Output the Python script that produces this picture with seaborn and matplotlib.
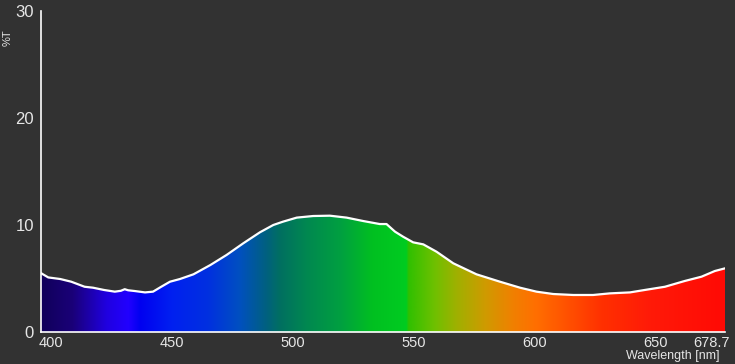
import numpy as np
import matplotlib
matplotlib.use("Agg")
import matplotlib.pyplot as plt
import matplotlib.transforms as mtransforms
from matplotlib.colors import LinearSegmentedColormap
import seaborn as sns

# ---- data ----
wavelength = [396, 399, 404, 408.5, 414, 417.5, 422, 426.5, 429, 430.6, 432, 434.7,
              439, 442.3, 445.7, 449.3, 453.4, 459, 466, 472.7, 479.6, 486.5, 492,
              496, 501.7, 508.5, 515.4, 522.3, 529.2, 536, 538.8, 542.3, 545.7,
              549.8, 554, 559.5, 566.4, 576, 585.7, 594, 600.8, 607.7, 616, 624.2,
              631.1, 639.4, 645.6, 653.9, 662.1, 669, 674.5, 678.7]
transmittance = [5.5, 5.1, 4.95, 4.7, 4.23, 4.14, 3.93, 3.77, 3.85, 4.0, 3.9, 3.83,
                 3.7, 3.77, 4.23, 4.7, 4.95, 5.39, 6.26, 7.2, 8.29, 9.32, 10.0,
                 10.31, 10.69, 10.84, 10.87, 10.69, 10.37, 10.09, 10.09, 9.38, 8.9,
                 8.38, 8.19, 7.5, 6.42, 5.39, 4.7, 4.14, 3.77, 3.55, 3.46, 3.46,
                 3.61, 3.7, 3.93, 4.23, 4.77, 5.17, 5.7, 5.95]
x_ticks = [400, 450, 500, 550, 600, 650, 678.7]
x_tick_labels = ["400", "450", "500", "550", "600", "650", "678.7"]
y_ticks = [0, 10, 20, 30]
y_tick_labels = ["0", "10", "20", "30"]

# spectrum colour stops (style)
stop_nm = [396, 409, 423, 432, 437, 450, 465, 478, 489, 495, 506, 520, 533, 547,
           548, 559, 568, 580, 591, 600, 614, 628, 648, 678.7]
stop_col = ["#10005a", "#1a0078", "#2000e0", "#2200ff", "#0000f0", "#0020f0",
            "#0030e0", "#0050c0", "#006080", "#007060", "#008850", "#00a040",
            "#00c020", "#00cc20", "#30c000", "#70c000", "#a0b000", "#d09a00",
            "#f08000", "#ff7000", "#ff5000", "#ff3000", "#ff1a08", "#ff0a05"]

BG = "#323232"
FG = "#e6e6e6"
sns.set_style("dark", {"axes.facecolor": BG, "figure.facecolor": BG})
plt.rcParams["font.family"] = ["Liberation Sans", "DejaVu Sans"]

fig = plt.figure(figsize=(7.35, 3.64), dpi=100)
fig.patch.set_facecolor(BG)
ax = fig.add_axes([41 / 735, 1 - 332 / 364, 684 / 735, 321 / 364])
ax.set_facecolor(BG)

xmin, xmax = 396, 678.7
ax.set_xlim(xmin, xmax)
ax.set_ylim(0, 30)

# gradient fill clipped to area under the curve
lo, hi = stop_nm[0], stop_nm[-1]
cmap = LinearSegmentedColormap.from_list(
    "spec", [((n - lo) / (hi - lo), c) for n, c in zip(stop_nm, stop_col)], N=1024)
poly = ax.fill_between(wavelength, 0, transmittance, color="none", lw=0)
grad = np.linspace(0, 1, 1024).reshape(1, -1)
im = ax.imshow(grad, cmap=cmap, extent=[lo, hi, 0, 30], aspect="auto",
               origin="lower", zorder=1, interpolation="bilinear")
im.set_clip_path(poly.get_paths()[0], transform=ax.transData)

sns.lineplot(x=wavelength, y=transmittance, ax=ax, color="white", lw=1.6,
             zorder=3, estimator=None, sort=False)

ax.grid(False)
for s in ["top", "right"]:
    ax.spines[s].set_visible(False)
for s in ["left", "bottom"]:
    ax.spines[s].set_color("white")
    ax.spines[s].set_linewidth(1.2)
    ax.spines[s].set_zorder(4)

ax.set_xticks(x_ticks)
ax.set_xticklabels(x_tick_labels)
ax.set_yticks(y_ticks)
ax.set_yticklabels(y_tick_labels)
ax.tick_params(axis="x", direction="in", length=5, width=1, colors="white",
               labelcolor=FG, labelsize=10.5, pad=3)
ax.tick_params(axis="y", direction="in", length=5, width=1, colors="white",
               labelcolor=FG, labelsize=12, pad=5)
for t in ax.get_xticklabels() + ax.get_yticklabels():
    t.set_zorder(5)
last = ax.get_xticklabels()[-1]
last.set_horizontalalignment("right")
last.set_transform(last.get_transform() +
                   mtransforms.ScaledTranslation(5 / 100, 0, fig.dpi_scale_trans))

ax.set_xlabel("")
ax.set_ylabel("")
fig.text(8 / 735, 1 - 38 / 364, "%T", rotation=90, color=FG, fontsize=8,
         ha="center", va="center")
fig.text(719 / 735, 1 - 356 / 364, "Wavelength [nm]", color=FG, fontsize=9,
         ha="right", va="center")

fig.savefig("out.png", dpi=100, facecolor=BG)
